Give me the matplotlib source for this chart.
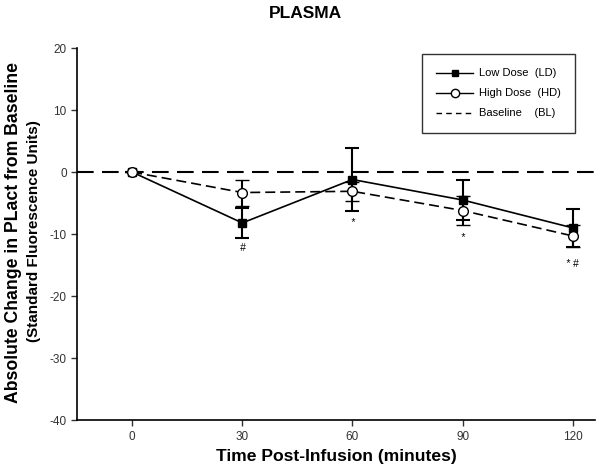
import matplotlib
matplotlib.use("Agg")
import matplotlib.pyplot as plt
from matplotlib.lines import Line2D

plt.rcParams["font.family"] = ["Liberation Sans", "DejaVu Sans"]
plt.rcParams["axes.unicode_minus"] = False

# time points (minutes)
time = [0, 30, 60, 90, 120]

# low dose mean and SEM
ld_mean = [0.0, -8.2, -1.2, -4.5, -9.0]
ld_err = [0.0, 2.4, 5.1, 3.2, 3.1]

# high dose mean and SEM
hd_mean = [0.0, -3.3, -3.1, -6.2, -10.3]
hd_err = [0.0, 2.1, 1.5, 2.4, 1.8]

# significance marks under each time point
sig_labels = ["", "#", "*", "*", "* #"]
sig_y = [0, -12.3, -8.1, -10.5, -14.8]

fig = plt.figure(figsize=(6.02, 4.71), dpi=100)
ax = fig.add_axes([0.128, 0.108, 0.86, 0.79])

# baseline
ax.axhline(0, color="black", lw=1.5, ls=(0, (8, 4)), zorder=1)

ax.errorbar(time, ld_mean, yerr=ld_err, color="black", lw=1.2, ls="-",
            marker="s", ms=6, mfc="black", mec="black",
            capsize=5, capthick=1.5, elinewidth=1.5, zorder=3)
ax.errorbar(time, hd_mean, yerr=hd_err, color="black", lw=1.2,
            ls=(0, (6, 3)), marker="o", ms=7, mfc="white", mec="black",
            mew=1.0, capsize=5, capthick=1.5, elinewidth=1.5, zorder=4)

for t, lab, y in zip(time, sig_labels, sig_y):
    if lab:
        ax.text(t, y, lab, ha="center", va="center", fontsize=7.5,
                style="italic")

ax.set_xlim(-15, 126)
ax.set_ylim(-40, 20)
ax.set_xticks(time)
ax.set_yticks([-40, -30, -20, -10, 0, 10, 20])
ax.tick_params(labelsize=8.5, length=4, width=1, colors="#333333",
               labelcolor="#333333")
for s in ("top", "right"):
    ax.spines[s].set_visible(False)
for s in ("left", "bottom"):
    ax.spines[s].set_linewidth(1.2)

ax.set_xlabel("Time Post-Infusion (minutes)", fontsize=12.6,
              fontweight="bold", labelpad=5)
fig.text(0.0225, 0.507, "Absolute Change in PLact from Baseline",
         rotation=90, ha="center", va="center", fontsize=12.7,
         fontweight="bold")
fig.text(0.057, 0.509, "(Standard Fluorescence Units)", rotation=90,
         ha="center", va="center", fontsize=11, fontweight="bold")
fig.text(0.507, 0.972, "PLASMA", ha="center", va="center", fontsize=12.5,
         fontweight="bold")

handles = [
    Line2D([], [], color="black", lw=1, marker="s", ms=5, mfc="black"),
    Line2D([], [], color="black", lw=1, marker="o", ms=6, mfc="white"),
    Line2D([], [], color="black", lw=1, ls=(0, (4, 3))),
]
labels = ["Low Dose  (LD)", "High Dose  (HD)", "Baseline    (BL)"]
leg = ax.legend(handles, labels, loc="upper left",
                bbox_to_anchor=(0.666, 0.984), fontsize=8, frameon=True,
                fancybox=False, edgecolor="black", borderpad=1.3,
                handlelength=3.3, handletextpad=0.5, labelspacing=0.9,
                borderaxespad=0)
leg.get_frame().set_linewidth(1.0)

fig.savefig("out.png", dpi=100)
